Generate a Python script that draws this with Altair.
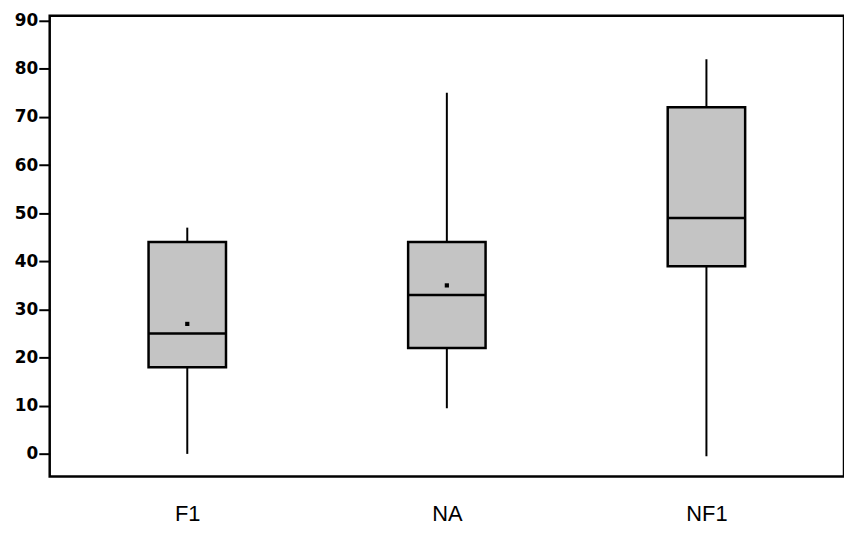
import altair as alt
import pandas as pd

groups = ["F1", "NA", "NF1"]
mins = [0, 9.5, -0.5]
q1s = [18, 22, 39]
medians = [25, 33, 49]
q3s = [44, 44, 72]
maxs = [47, 75, 82]
means = [27, 35, None]

df = pd.DataFrame({"group": groups, "lo": mins, "q1": q1s, "med": medians,
                   "q3": q3s, "hi": maxs, "mean": means})

xenc = alt.X("group:N", sort=groups, title=None,
             scale=alt.Scale(type="point", padding=0.53),
             axis=alt.Axis(labelAngle=0, ticks=False, domain=False, labelFontSize=22,
                           labelPadding=27, labelFont="Liberation Sans", labelColor="black"))
yscale = alt.Scale(domain=[-4.7, 91], nice=False, zero=False)
yenc = alt.Y("lo:Q", scale=yscale, title=None,
             axis=alt.Axis(values=list(range(0, 91, 10)), tickSize=11, tickWidth=2,
                           tickColor="black", domain=False, grid=False, labelFontSize=17,
                           labelFontWeight="bold", labelFont="DejaVu Sans",
                           labelColor="black", labelPadding=1))

base = alt.Chart(df)
whisk = base.mark_rule(color="black", strokeWidth=2).encode(x=xenc, y=yenc, y2="hi:Q")
box = base.mark_bar(size=78, color="#c4c4c4", stroke="black", strokeWidth=2.5).encode(
    x=alt.X("group:N", sort=groups), y=alt.Y("q1:Q", scale=yscale), y2="q3:Q")
med = base.mark_tick(size=78, thickness=2.5, color="black", opacity=1).encode(
    x=alt.X("group:N", sort=groups), y=alt.Y("med:Q", scale=yscale))
mn = base.mark_point(shape="square", size=18, filled=True, color="black", opacity=1).encode(
    x=alt.X("group:N", sort=groups), y=alt.Y("mean:Q", scale=yscale))

chart = alt.layer(whisk, box, med, mn).properties(
    width=800, height=464,
    autosize=alt.AutoSizeParams(type="none"),
    padding={"left": 42, "top": 6, "right": 0, "bottom": 54},
).configure(background="white").configure_view(stroke="black", strokeWidth=2.5)

chart.save("out.html", embed_options={"renderer": "svg", "actions": False})
